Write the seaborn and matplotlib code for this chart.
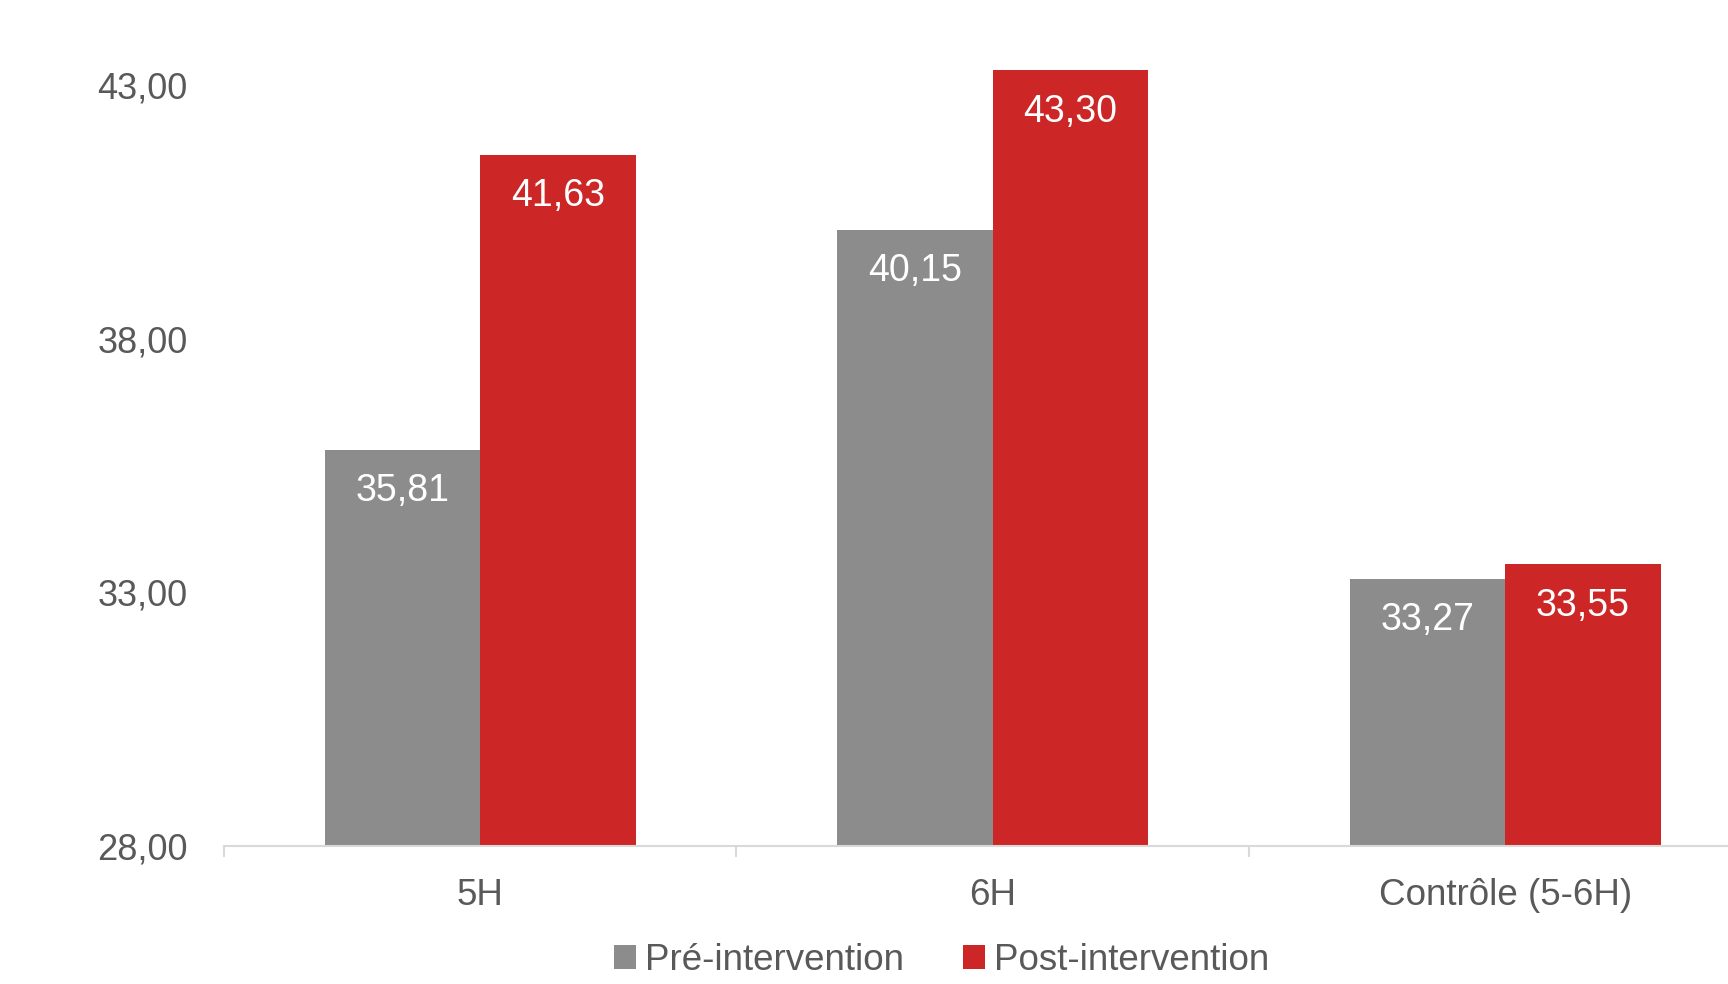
import numpy as np
import pandas as pd
import matplotlib
matplotlib.use("Agg")
import matplotlib.pyplot as plt
import seaborn as sns

# ── Data ─────────────────────────────────────────────────────────────────────
groups = ["5H", "6H", "Contrôle (5-6H)"]
phases = ["Pré-intervention", "Post-intervention"]
pre_values = [35.81, 40.15, 33.27]
post_values = [41.63, 43.30, 33.55]
y_ticks = [28, 33, 38, 43]

df = pd.DataFrame({
    "Groupe": groups * 2,
    "Phase": [phases[0]] * 3 + [phases[1]] * 3,
    "Score": pre_values + post_values,
})

# ── Style ────────────────────────────────────────────────────────────────────
sns.set_theme(style="white")
plt.rcParams["font.family"] = ["Liberation Sans", "DejaVu Sans"]

GREY = "#8c8c8c"
RED = "#cc2626"
TEXT = "#595959"
AXIS = "#d9d9d9"

fig = plt.figure(figsize=(17.28, 9.84), dpi=100)
ax = fig.add_axes([0.1296, 0.1402, 0.8898, 0.8249])

sns.barplot(data=df, x="Groupe", y="Score", hue="Phase", hue_order=phases,
            palette=[GREY, RED], width=0.606, linewidth=0, saturation=1,
            errorbar=None, ax=ax, legend=True)

ax.set_xlim(-0.5, 2.5)
ax.set_ylim(28, 44)
ax.set_yticks(y_ticks)
ax.set_yticklabels([f"{v:.2f}".replace(".", ",") for v in y_ticks])
ax.set_xlabel("")
ax.set_ylabel("")

for side in ["left", "top", "right"]:
    ax.spines[side].set_visible(False)
ax.spines["bottom"].set_color(AXIS)
ax.spines["bottom"].set_linewidth(1.5)

ax.tick_params(axis="y", length=0, pad=26, labelsize=26, labelcolor=TEXT)
ax.tick_params(axis="x", which="major", length=0, pad=23, labelsize=26.5,
               labelcolor=TEXT)
ax.set_xticks([-0.5, 0.5, 1.5], minor=True)
ax.tick_params(axis="x", which="minor", bottom=True, direction="out",
               length=8, width=1.5, color=AXIS)

# Data labels inside the top of each bar
for container in ax.containers:
    for bar in container:
        h = bar.get_height()
        ax.annotate(f"{h:.2f}".replace(".", ","),
                    (bar.get_x() + bar.get_width() / 2, h),
                    xytext=(0, -30), textcoords="offset points",
                    ha="center", va="center", color="white", fontsize=27)

handles, labels = ax.get_legend_handles_labels()
ax.get_legend().remove()
fig.legend(handles, labels, loc="center", bbox_to_anchor=(0.545, 0.024),
           ncol=2, frameon=False, fontsize=26.5, labelcolor=TEXT,
           handlelength=0.6, handleheight=0.6, handletextpad=0.25,
           columnspacing=1.6, borderpad=0.1)

fig.savefig("out.png", dpi=100)
